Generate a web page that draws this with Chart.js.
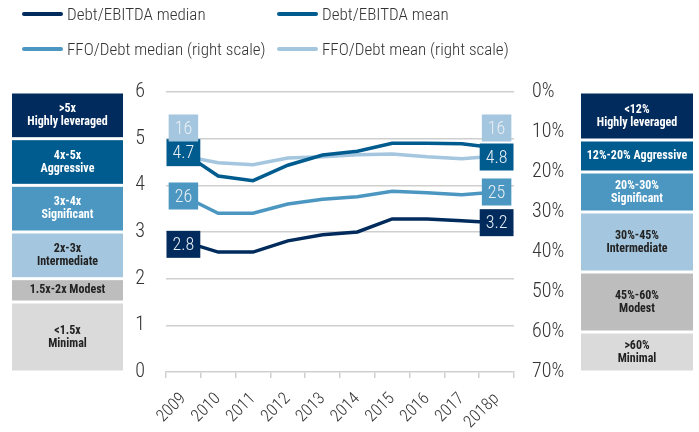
<!DOCTYPE html>
<html>
<head>
<meta charset="utf-8">
<script src="https://cdn.jsdelivr.net/npm/chart.js@4"></script>
<style>
  html, body { margin: 0; padding: 0; background: #fff; }
  #wrap { position: relative; width: 699px; height: 432px; }
  #legend { position: absolute; left: 0; top: 0; width: 699px; height: 70px;
    font-family: 'Liberation Sans Narrow', 'Roboto Condensed', Roboto, sans-serif; font-size: 17px; font-weight: 300; color: #333; }
  .leg-item { position: absolute; display: flex; align-items: center; white-space: nowrap; }
  .leg-line { width: 41px; height: 4px; border-radius: 2px; margin-right: 4px; }
</style>
</head>
<body>
<div id="wrap">
  <canvas id="chart" width="699" height="432"></canvas>
  <div id="legend"></div>
</div>
<script>
const years = ['2009', '2010', '2011', '2012', '2013', '2014', '2015', '2016', '2017', '2018p'];

const debtEbitdaMedian = [2.8, 2.57, 2.57, 2.81, 2.94, 3.0, 3.28, 3.28, 3.24, 3.2];
const debtEbitdaMean = [4.7, 4.2, 4.1, 4.43, 4.65, 4.73, 4.9, 4.9, 4.89, 4.8];
const ffoDebtMedian = [26, 30.3, 30.3, 28, 26.8, 26.2, 24.8, 25.2, 25.7, 25];
const ffoDebtMean = [16, 17.7, 18.2, 16.5, 16.2, 15.7, 15.5, 16.2, 16.7, 16];

const leftTicks = [0, 1, 2, 3, 4, 5, 6];
const rightTicks = [0, 10, 20, 30, 40, 50, 60, 70];

// risk bands next to each scale
const debtBandFrom = [5, 4, 3, 2, 1.5, 0];
const debtBandTo = [6, 5, 4, 3, 2, 1.5];
const debtBandText = [['>5x', 'Highly leveraged'], ['4x-5x', 'Aggressive'], ['3x-4x', 'Significant'],
  ['2x-3x', 'Intermediate'], ['1.5x-2x Modest'], ['<1.5x', 'Minimal']];

const ffoBandFrom = [0, 12, 20, 30, 45, 60];
const ffoBandTo = [12, 20, 30, 45, 60, 70];
const ffoBandText = [['<12%', 'Highly leveraged'], ['12%-20% Aggressive'], ['20%-30%', 'Significant'],
  ['30%-45%', 'Intermediate'], ['45%-60%', 'Modest'], ['>60%', 'Minimal']];

const bandColours = ['#002b5c', '#005b8f', '#4c97c1', '#a4c6de', '#bdbdbd', '#dadada'];
const bandTextColours = ['#fff', '#fff', '#fff', '#222', '#222', '#222'];

const FONT = "'Liberation Sans Narrow', 'Roboto Condensed', Roboto, sans-serif";

const datasets = [
  {label: 'Debt/EBITDA median', data: debtEbitdaMedian, borderColor: '#002b5c', yAxisID: 'y',
    labelOffset: [[0, 3], [0, 0]], digits: 1},
  {label: 'Debt/EBITDA mean', data: debtEbitdaMean, borderColor: '#005b8f', yAxisID: 'y',
    labelOffset: [[0, 0], [0, 9]], digits: 1},
  {label: 'FFO/Debt median (right scale)', data: ffoDebtMedian, borderColor: '#4c97c1', yAxisID: 'y2',
    labelOffset: [[0, 0], [0, 0]], digits: 0},
  {label: 'FFO/Debt mean (right scale)', data: ffoDebtMean, borderColor: '#a4c6de', yAxisID: 'y2',
    labelOffset: [[0, -28], [0, -28]], digits: 0},
];
datasets.forEach(ds => {
  ds.borderWidth = 3.5;
  ds.pointRadius = 0;
  ds.tension = 0;
  ds.fill = false;
});

// Draws the coloured rating bands beside each axis
const bandPlugin = {
  id: 'bands',
  afterDraw(chart) {
    const c = chart.ctx;
    const drawBands = (scale, from, to, texts, x0, x1) => {
      from.forEach((f, i) => {
        const a = scale.getPixelForValue(f);
        const b = scale.getPixelForValue(to[i]);
        const top = Math.min(a, b) + 1.5;
        const bottom = Math.max(a, b) - 1.5;
        c.fillStyle = bandColours[i];
        c.fillRect(x0, top, x1 - x0, bottom - top);
        c.fillStyle = bandTextColours[i];
        c.font = `bold 12px ${FONT}`;
        c.textAlign = 'center';
        c.textBaseline = 'middle';
        const lines = texts[i];
        const mid = (top + bottom) / 2;
        lines.forEach((t, k) => {
          c.fillText(t, (x0 + x1) / 2, mid + (k - (lines.length - 1) / 2) * 13);
        });
      });
    };
    drawBands(chart.scales.y, debtBandFrom, debtBandTo, debtBandText, 12, 123);
    drawBands(chart.scales.y2, ffoBandFrom, ffoBandTo, ffoBandText, 581, 693);
  }
};

// Value boxes at the first and last point of each line
const endLabelPlugin = {
  id: 'endLabels',
  afterDatasetsDraw(chart) {
    const c = chart.ctx;
    c.font = `300 18px ${FONT}`;
    c.textAlign = 'center';
    c.textBaseline = 'middle';
    chart.data.datasets.forEach((ds, di) => {
      const meta = chart.getDatasetMeta(di);
      [0, ds.data.length - 1].forEach((idx, k) => {
        const pt = meta.data[idx];
        const txt = ds.data[idx].toFixed(ds.digits);
        const x = pt.x + ds.labelOffset[k][0];
        const y = pt.y + ds.labelOffset[k][1];
        const w = c.measureText(txt).width + 12;
        const h = 27;
        c.fillStyle = ds.borderColor;
        c.fillRect(x - w / 2, y - h / 2, w, h);
        c.fillStyle = '#e8eef4';
        c.fillText(txt, x, y + 1);
      });
    });
  }
};

const ctx = document.getElementById('chart').getContext('2d');

const chart = new Chart(ctx, {
  type: 'line',
  data: {labels: years, datasets: datasets},
  options: {
    responsive: false,
    animation: false,
    layout: {padding: {top: 92, left: 0, right: 0, bottom: 0}},
    plugins: {legend: {display: false}, tooltip: {enabled: false}},
    scales: {
      x: {
        offset: true,
        grid: {offset: true, drawOnChartArea: false, drawTicks: true, tickLength: 6, color: '#cfcfcf', lineWidth: 1.5},
        border: {display: true, color: '#cfcfcf', width: 1.5},
        ticks: {color: '#333', font: {family: FONT, size: 17, weight: 300}, maxRotation: 45, minRotation: 45, padding: 11},
        afterFit: s => { s.height = 60; },
      },
      y: {
        position: 'left',
        min: 0, max: 6,
        afterBuildTicks: s => { s.ticks = leftTicks.map(v => ({value: v})); },
        grid: {color: c => c.tick.value === 0 ? 'rgba(0,0,0,0)' : '#cfcfcf', lineWidth: 1.5, drawTicks: false},
        border: {display: false},
        ticks: {color: '#333', font: {family: FONT, size: 20, weight: 300}, padding: 21},
        afterFit: s => { s.width = 166; },
      },
      y2: {
        position: 'right',
        reverse: true,
        min: 0, max: 70,
        afterBuildTicks: s => { s.ticks = rightTicks.map(v => ({value: v})); },
        grid: {drawOnChartArea: false, drawTicks: false},
        border: {display: false},
        ticks: {color: '#333', font: {family: FONT, size: 20, weight: 300}, padding: 18, callback: v => v + '%'},
        afterFit: s => { s.width = 185; },
      },
    },
  },
  plugins: [bandPlugin, endLabelPlugin],
});

// HTML legend built from the datasets
const legendPos = [[22, 15], [277, 15], [22, 50], [277, 50]];
const legendEl = document.getElementById('legend');
datasets.forEach((ds, i) => {
  const item = document.createElement('div');
  item.className = 'leg-item';
  item.style.left = legendPos[i][0] + 'px';
  item.style.top = (legendPos[i][1] - 11) + 'px';
  const line = document.createElement('div');
  line.className = 'leg-line';
  line.style.background = ds.borderColor;
  const label = document.createElement('span');
  label.innerText = ds.label;
  item.appendChild(line);
  item.appendChild(label);
  legendEl.appendChild(item);
});
</script>
</body>
</html>
